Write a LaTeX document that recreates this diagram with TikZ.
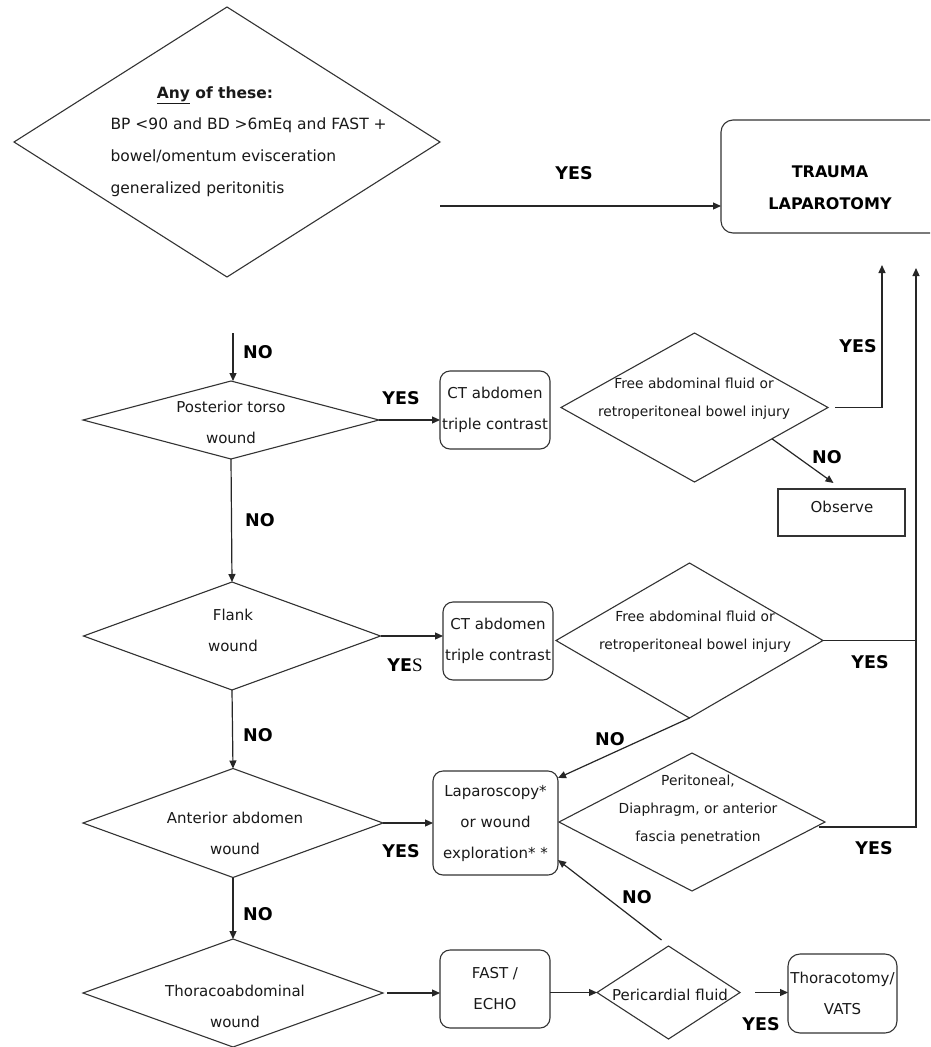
\documentclass[tikz,border=0pt]{standalone}
\usepackage{fontspec}
\setmainfont{DejaVu Sans}
\newfontfamily\serifS{Liberation Serif}
\usetikzlibrary{shapes.geometric,arrows.meta,calc}
\begin{document}
\begin{tikzpicture}[x=1pt,y=-1pt,
  line width=1.2pt,
  dia/.style 2 args={draw=black!80, line width=1.1pt, shape=diamond, inner sep=0pt, outer sep=0pt, minimum width=#1, minimum height=#2},
  box/.style={draw=black!80, line width=1.1pt, rounded corners=10pt, inner sep=1pt, outer sep=0pt, align=center, text=black!90,
              font=\fontsize{15}{31}\selectfont},
  txt/.style={inner sep=0pt, align=center, text=black!90, font=\fontsize{15}{31}\selectfont},
  stxt/.style={inner sep=0pt, align=center, text=black!90, font=\fontsize{13.8}{28}\selectfont},
  lbl/.style={inner sep=0pt, text=black, font=\fontsize{17.5}{20}\selectfont\bfseries},
  arr/.style={draw=black!85, line width=1.2pt, -{Triangle[length=8pt,width=7pt]}},
  con/.style={draw=black!85, line width=1.2pt}]
\useasboundingbox (0,0) rectangle (930,1047);
\clip (0,0) rectangle (930,1047);
\fill[white] (0,0) rectangle (930,1047);

% ---- decision diamonds (left column)
\node[dia={426}{270}] (d0) at (227,142) {};
\node[txt, font=\fontsize{15.5}{31}\selectfont\bfseries] (t0a) at (215,95) {\underline{Any} of these:};
\node[txt, align=left, anchor=west, font=\fontsize{15.5}{32}\selectfont] (t0b) at (110,157)
  {BP <90 and BD >6mEq and FAST +\\bowel/omentum evisceration\\generalized peritonitis};

\node[dia={296}{78}] (d1) at (231,420) {};
\node[txt] (t1) at (231,422) {Posterior torso\\wound};

\node[dia={297}{108}] (d2) at (232,636) {};
\node[txt] (t2) at (233,630) {Flank\\wound};

\node[dia={300}{109}] (d3) at (233,823) {};
\node[txt] (t3) at (235,833) {Anterior abdomen\\wound};

\node[dia={300}{108}] (d4) at (233,993) {};
\node[txt] (t4) at (235,1006) {Thoracoabdominal\\wound};

% ---- boxes
\node[box, rounded corners=12pt, minimum width=230, minimum height=113] (tl) at (836,176.5) {};
\node[txt, font=\fontsize{16}{32}\selectfont\bfseries, text=black] (tlt) at (830,188) {TRAUMA\\LAPAROTOMY};

\node[box, minimum width=110, minimum height=78] (ct1) at (495,410) {CT abdomen\\triple contrast};
\node[box, minimum width=110, minimum height=78] (ct2) at (498,641) {CT abdomen\\triple contrast};
\node[box, rounded corners=0pt, minimum width=127, minimum height=47] (obs) at (841.5,512.5) {};
\node[txt] (obst) at (842,507) {Observe};
\node[box, minimum width=125, minimum height=104] (lap) at (495.5,823) {Laparoscopy*\\or wound\\exploration* *};
\node[box, minimum width=110, minimum height=78] (fast) at (495,989) {FAST /\\ECHO};
\node[box, rounded corners=12pt, minimum width=109, minimum height=79] (thor) at (842.5,993.5) {Thoracotomy/\\VATS};

% ---- decision diamonds (right)
\node[dia={267}{149}] (f1) at (694.5,407.5) {};
\node[stxt] (tf1) at (694,399) {Free abdominal fluid or\\retroperitoneal bowel injury};
\node[dia={267}{155}] (f2) at (689.5,640.5) {};
\node[stxt] (tf2) at (695,631.5) {Free abdominal fluid or\\retroperitoneal bowel injury};
\node[dia={266}{138}] (per) at (692,822) {};
\node[stxt] (tper) at (698,810) {Peritoneal,\\Diaphragm, or anterior\\fascia penetration};
\node[dia={143}{93}] (peri) at (668.5,992.5) {};
\node[txt] (tperi) at (670,995) {Pericardial fluid};

% ---- connectors
\coordinate (c0) at (440,206);
\draw[arr] (c0) -- (c0 -| tl.west);
\coordinate (c1) at (233,333);
\draw[arr] (c1) -- (c1 |- d1.north);
\draw[arr] (d1.east) -- (d1.east -| ct1.west);
\draw[arr] (d1.south) -- (d2.north);
\draw[arr] (d2.east) -- (d2.east -| ct2.west);
\draw[arr] (d2.south) -- (d3.north);
\draw[arr] (d3.east) -- (d3.east -| lap.west);
\draw[arr] (d3.south) -- (d4.north);
\draw[arr] ([xshift=4pt]d4.east) -- (d4.east -| fast.west);
\draw[arr] (peri.west -| fast.east) -- (peri.west);
\draw[arr] ([xshift=15pt]peri.east) -- (peri.east -| thor.west);
\draw[arr] ([xshift=-7pt,yshift=6pt]peri.north) -- ([yshift=-37pt]lap.east);
\draw[arr] ($(f1.east)!0.42!(f1.south)$) -- ([xshift=-8pt,yshift=6pt]obs.north);
\coordinate (c2) at (882,265);
\draw[arr] ([xshift=7pt]f1.east) -- (c2 |- f1.east) -- (c2);
\coordinate (c3) at (916,268);
\coordinate (p1) at ([xshift=-6pt,yshift=-5pt]per.east);
\draw[arr] (p1) -- (p1 -| c3) -- (c3);
\draw[con] (f2.east) -- (f2.east -| c3);
\draw[arr] (f2.south) -- ([yshift=-7pt]lap.north east);

% ---- labels
\node[lbl] (l1) at (574,173) {YES};
\node[lbl] (l2) at (258,352) {NO};
\node[lbl] (l3) at (401,398) {YES};
\node[lbl] (l4) at (260,520) {NO};
\node[lbl] (l5) at (405,665) {YE{\serifS\mdseries\fontsize{19}{20}\selectfont S}};
\node[lbl] (l6) at (258,735) {NO};
\node[lbl] (l7) at (401,851) {YES};
\node[lbl] (l8) at (258,914) {NO};
\node[lbl] (l9) at (858,346) {YES};
\node[lbl] (l10) at (827,457) {NO};
\node[lbl] (l11) at (870,662) {YES};
\node[lbl] (l12) at (610,739) {NO};
\node[lbl] (l13) at (874,848) {YES};
\node[lbl] (l14) at (637,897) {NO};
\node[lbl] (l15) at (761,1024) {YES};
\end{tikzpicture}
\end{document}
